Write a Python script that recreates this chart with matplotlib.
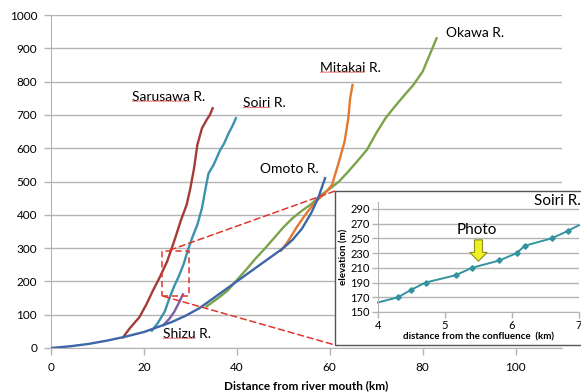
import numpy as np
import matplotlib.pyplot as plt
from matplotlib.patches import Rectangle, ConnectionPatch
from matplotlib.lines import Line2D

plt.rcParams['font.family'] = ['Lato', 'DejaVu Sans']

# longitudinal profiles: distance from river mouth (km) vs elevation (m)
omoto_x = [0, 4, 8, 12, 16, 20, 23, 26, 29, 32, 35, 38, 41, 44, 47, 50, 52, 54, 56, 57.5, 59]
omoto_y = [0, 5, 12, 22, 34, 48, 63, 78, 97, 120, 150, 180, 210, 240, 270, 300, 325, 358, 405, 450, 510]

sarusawa_x = [15.5, 17, 19, 20.5, 22, 23.5, 25, 26.5, 28, 29.2, 30, 30.8, 31.5, 32.5, 33.5, 34.2, 34.8]
sarusawa_y = [32, 60, 92, 130, 174, 215, 260, 320, 385, 430, 480, 540, 610, 660, 685, 700, 720]

soiri_x = [21.7, 23, 24.5, 25.5, 26.5, 27.5, 28.5, 29.5, 30.5, 31.5, 32.5, 33.2, 33.9, 35, 36.4, 37.3, 38.2, 39.1, 39.8]
soiri_y = [52, 75, 110, 150, 185, 215, 250, 295, 335, 370, 420, 474, 524, 550, 594, 615, 644, 668, 690]

shizu_x = [24.2, 25.5, 26.5, 27.5, 28.4]
shizu_y = [69, 88, 108, 135, 161]

okawa_x = [33.5, 36, 38, 40, 42, 44, 46, 48, 50, 52, 54, 56, 58, 60, 62, 64, 66, 68,
           70, 72, 74, 76, 78, 80, 81.5, 83]
okawa_y = [125, 150, 172, 204, 235, 268, 298, 330, 362, 390, 412, 432, 458, 478, 500, 530, 562, 595,
           645, 690, 725, 758, 790, 830, 880, 930]

mitakai_x = [49.5, 51, 53, 55, 57, 59, 60.5, 62, 63.2, 64, 64.4, 64.9]
mitakai_y = [292, 320, 365, 405, 440, 465, 490, 560, 620, 690, 750, 790]

# Soiri R. detail: distance from the confluence (km) vs elevation (m)
detail_x = [4.0, 4.30, 4.49, 4.71, 5.16, 5.40, 5.81, 6.07, 6.19, 6.59, 6.83, 7.0]
detail_y = [163, 170, 180, 190, 200, 210, 220, 230, 240, 250, 260, 268]
photo_km = 5.5

W, H = 581, 392
fig = plt.figure(figsize=(W / 100, H / 100), dpi=100)
ax = fig.add_axes([51 / W, 1 - 348 / H, (562 - 51) / W, (348 - 15) / H])

grid_c = '#b3b3b3'
ax.set_xlim(0, 110)
ax.set_ylim(0, 1000)
ax.set_xticks(range(0, 101, 20))
ax.set_yticks(range(0, 1001, 100))
ax.yaxis.grid(True, color=grid_c, lw=1)
ax.set_axisbelow(True)
for s in ['top', 'right']:
    ax.spines[s].set_visible(False)
for s in ['left', 'bottom']:
    ax.spines[s].set_color(grid_c)
ax.tick_params(axis='both', colors=grid_c, length=5, width=1, labelsize=8.5,
               labelcolor='black', pad=5)
ax.set_xlabel('Distance from river mouth (km)', fontsize=8.5, fontweight='bold', labelpad=5)

lw = 1.7
ax.plot(sarusawa_x, sarusawa_y, color='#a33b39', lw=lw, zorder=3)
ax.plot(soiri_x, soiri_y, color='#3a92ad', lw=lw, zorder=3)
ax.plot(shizu_x, shizu_y, color='#7b5ea3', lw=lw, zorder=3)
ax.plot(okawa_x, okawa_y, color='#7aa34a', lw=lw, zorder=3)
ax.plot(mitakai_x, mitakai_y, color='#e4782f', lw=lw, zorder=3)
ax.plot(omoto_x, omoto_y, color='#3d66a8', lw=lw, zorder=4)

labels = [
    (17.5, 754, 'Sarusawa R.', 'Sarusawa'),
    (41.4, 735, 'Soiri R.', 'Soiri'),
    (45.0, 537, 'Omoto R.', None),
    (58.0, 841, 'Mitakai R.', 'Mitakai'),
    (85.1, 946, 'Okawa R.', None),
    (24.1, 42, 'Shizu R.', 'Shizu'),
]
texts = []
for x, y, s, w in labels:
    t = ax.text(x, y, s, fontsize=10, ha='left', va='center', zorder=6)
    texts.append((t, w))

# zoomed window and its leaders
red = '#e0352d'
ax.add_patch(Rectangle((24, 155), 5.7, 135, fill=False, ec=red, lw=1.1,
                       ls=(0, (4, 2.5)), zorder=5))

box_l, box_t, box_r, box_b = 335, 191, 582, 345
box = Rectangle((box_l / W, 1 - box_b / H), (box_r - box_l) / W, (box_b - box_t) / H,
                transform=fig.transFigure, fc='white', ec='#555555', lw=1, zorder=10)
fig.patches.append(box)

for (xa, ya), (fx, fy) in [((25.6, 294), (box_l / W, 1 - box_t / H)),
                           ((24.3, 155), (box_l / W, 1 - box_b / H))]:
    con = ConnectionPatch(xyA=(xa, ya), coordsA=ax.transData, xyB=(fx, fy),
                          coordsB=fig.transFigure, color=red, lw=1.1,
                          ls=(0, (4, 2.5)), zorder=5)
    ax.add_artist(con)

# inset with the Soiri detail
ins = fig.add_axes([378 / W, 1 - 312 / H, (579 - 378) / W, (312 - 201.6) / H], zorder=11)
ins.set_xlim(4, 7)
ins.set_ylim(150, 300)
ins.set_xticks([4, 5, 6, 7])
ins.set_yticks(range(150, 291, 20))
ins.yaxis.grid(True, color=grid_c, lw=1)
ins.set_axisbelow(True)
ins.patch.set_alpha(0)
for s in ['top', 'right']:
    ins.spines[s].set_visible(False)
for s in ['left', 'bottom']:
    ins.spines[s].set_color(grid_c)
ins.tick_params(axis='both', colors=grid_c, length=4, width=1, labelsize=8,
                labelcolor='black', pad=2)
ins.set_xlabel('distance from the confluence  (km)', fontsize=7, fontweight='bold', labelpad=1)
ins.set_ylabel('elevation (m)', fontsize=7, fontweight='bold', labelpad=1)
ins.plot(detail_x, detail_y, color='#3393a0', lw=1.4, clip_on=False)
ins.plot(detail_x[1:-1], detail_y[1:-1], 'D', color='#3393a0', ms=2.8, lw=0)

# arrow marking the photo location
aw, hw = 0.06, 0.13
ax_pts = [photo_km - aw, photo_km + aw, photo_km + aw, photo_km + hw, photo_km,
          photo_km - hw, photo_km - aw]
ay_pts = [248, 248, 231, 231, 219, 231, 231]
ins.fill(ax_pts, ay_pts, fc='#eef022', ec='#8c8c1e', lw=0.8, zorder=5)
ins.text(photo_km - 0.02, 262, 'Photo', fontsize=11, ha='center', va='center')
t_ins = ins.text(6.33, 301, 'Soiri R.', fontsize=11, ha='left', va='center', clip_on=False)
texts.append((t_ins, 'Soiri'))

# spell-check squiggles under the river names
fig.canvas.draw()
r = fig.canvas.get_renderer()
for t, w in texts:
    if w is None:
        continue
    full = t.get_text()
    t.set_text(w)
    bb = t.get_window_extent(r)
    t.set_text(full)
    xs = np.arange(bb.x0, bb.x1, 1.2)
    ys = bb.y0 + 1.5 + 0.7 * (np.arange(len(xs)) % 2)
    ln = Line2D(xs / W, ys / H, transform=fig.transFigure, color='#e04040', lw=0.5,
                zorder=t.get_zorder() + 1)
    fig.lines.append(ln)

fig.savefig('out.png', dpi=100)
